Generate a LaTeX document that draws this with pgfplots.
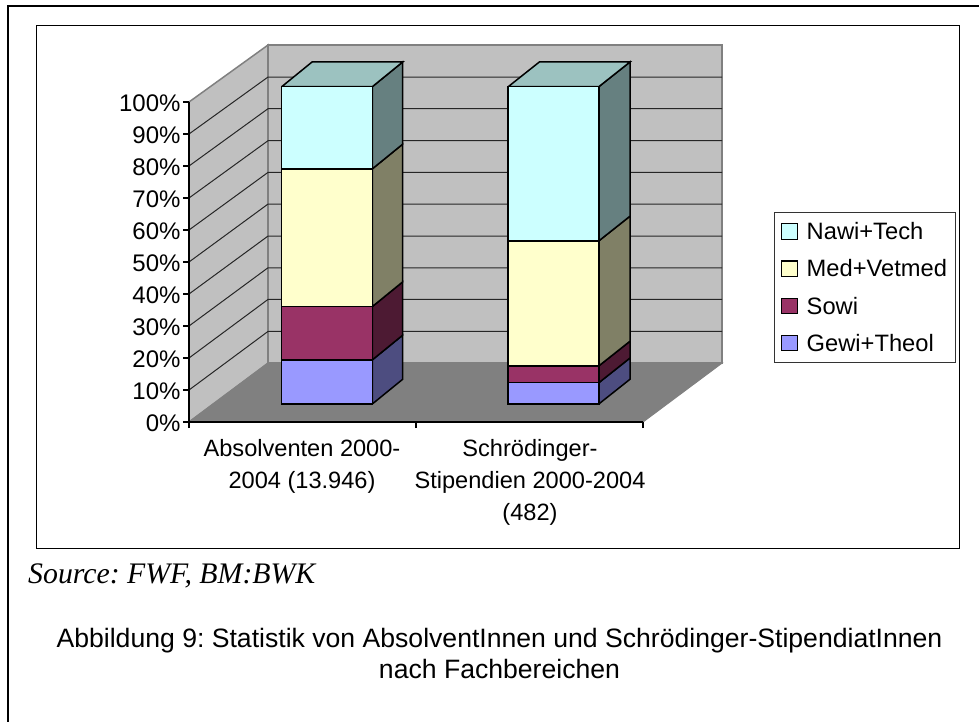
\documentclass[border=0pt]{standalone}
\usepackage{pgfplots}
\usepackage{pgfplotstable}
\usepackage{fontspec}
\pgfplotsset{compat=1.18}
\setmainfont{Liberation Sans}
\newfontfamily\timesfont{Liberation Serif}

% share of each field, percent
\pgfplotstableread{
x     Gewi Sowi Med  Nawi
327.0 13.9 16.8 43.4 25.9
553.5 6.7  5.3  39.4 48.6
}\shares

\definecolor{cGewi}{HTML}{9999FF}
\definecolor{cSowi}{HTML}{993366}
\definecolor{cMed}{HTML}{FFFFCC}
\definecolor{cNawi}{HTML}{CCFFFF}
\definecolor{sGewi}{HTML}{4D4D80}
\definecolor{sSowi}{HTML}{4D1A33}
\definecolor{sMed}{HTML}{808066}
\definecolor{sNawi}{HTML}{668080}
\definecolor{tNawi}{HTML}{9CC2C0}
\definecolor{wall}{HTML}{C0C0C0}
\definecolor{floorc}{HTML}{808080}

\begin{document}
\frenchspacing
\begin{tikzpicture}[x=1pt,y=1pt]
\useasboundingbox (0,0) rectangle (979,-722);
\draw[line width=2pt] (8,-722) -- (8,-6.5) -- (979,-6.5);
\draw[line width=1pt] (36.5,-25.5) rectangle (959,-548);

% walls and floor, y in percent on the front plane
\begin{axis}[
  at={(189pt,-422pt)}, anchor=south west,
  x=1pt, y=3.2pt,
  xmin=189, xmax=643, ymin=0, ymax=100,
  clip=false, axis on top,
  axis x line*=bottom, axis y line*=left,
  axis line style={black,line width=1.5pt},
  tick align=outside, major tick length=6pt,
  tick style={black,line width=1.2pt},
  ytick={0,10,20,30,40,50,60,70,80,90,100},
  yticklabels={0\%,10\%,20\%,30\%,40\%,50\%,60\%,70\%,80\%,90\%,100\%},
  yticklabel style={font=\fontsize{24}{26}\selectfont, xshift=1pt, yshift=-1.5pt},
  xtick={189,416,643},
  xticklabels={},
  extra x ticks={302,530},
  extra x tick labels={{Absolventen 2000-\\2004 (13.946)},{Schrödinger-\\Stipendien 2000-2004\\(482)}},
  extra x tick style={major tick length=0pt, tick style={draw=none},
    xticklabel style={align=center, anchor=north, font=\fontsize{23.6}{32}\selectfont, yshift=-14pt}},
  unbounded coords=jump,
]
\addplot[fill=wall, draw=floorc, line width=1.5pt] coordinates {(189,0) (268,18.4) (268,117.8) (189,100) (189,0)};
\addplot[fill=wall, draw=floorc, line width=1.5pt] coordinates {(268,18.4) (722,18.4) (722,117.8) (268,117.8) (268,18.4)};
\addplot[fill=floorc, draw=floorc, line width=1pt] coordinates {(189,0) (643,0) (722,18.4) (268,18.4) (189,0)};
% grid on the left wall and on the back wall
\addplot[black!85, line width=1pt] coordinates {
  (189,10) (268,28.3) (722,28.3) (nan,nan)
  (189,20) (268,38.3) (722,38.3) (nan,nan)
  (189,30) (268,48.2) (722,48.2) (nan,nan)
  (189,40) (268,58.1) (722,58.1) (nan,nan)
  (189,50) (268,68.1) (722,68.1) (nan,nan)
  (189,60) (268,78.0) (722,78.0) (nan,nan)
  (189,70) (268,87.9) (722,87.9) (nan,nan)
  (189,80) (268,97.9) (722,97.9) (nan,nan)
  (189,90) (268,107.8) (722,107.8)
};
\end{axis}

% side and top faces of the columns
\begin{axis}[
  at={(189pt,-404pt)}, anchor=south west,
  x=1pt, y=3.173pt,
  xmin=189, xmax=643, ymin=0, ymax=100,
  clip=false, hide axis,
]
\addplot[fill=sGewi, draw=black, line width=1.5pt] coordinates {(372.3,0) (402.7,7.8) (402.7,21.7) (372.3,13.9) (372.3,0)};
\addplot[fill=sSowi, draw=black, line width=1.5pt] coordinates {(372.3,13.9) (402.7,21.7) (402.7,38.5) (372.3,30.7) (372.3,13.9)};
\addplot[fill=sMed, draw=black, line width=1.5pt] coordinates {(372.3,30.7) (402.7,38.5) (402.7,81.9) (372.3,74.1) (372.3,30.7)};
\addplot[fill=sNawi, draw=black, line width=1.5pt] coordinates {(372.3,74.1) (402.7,81.9) (402.7,107.8) (372.3,100) (372.3,74.1)};
\addplot[fill=tNawi, draw=black, line width=1.5pt] coordinates {(281.7,100) (372.3,100) (402.7,107.8) (312.1,107.8) (281.7,100)};
\addplot[fill=sGewi, draw=black, line width=1.5pt] coordinates {(598.8,0) (630,7.8) (630,14.5) (598.8,6.7) (598.8,0)};
\addplot[fill=sSowi, draw=black, line width=1.5pt] coordinates {(598.8,6.7) (630,14.5) (630,19.8) (598.8,12.0) (598.8,6.7)};
\addplot[fill=sMed, draw=black, line width=1.5pt] coordinates {(598.8,12.0) (630,19.8) (630,59.2) (598.8,51.4) (598.8,12.0)};
\addplot[fill=sNawi, draw=black, line width=1.5pt] coordinates {(598.8,51.4) (630,59.2) (630,107.8) (598.8,100) (598.8,51.4)};
\addplot[fill=tNawi, draw=black, line width=1.5pt] coordinates {(508.2,100) (598.8,100) (630,107.8) (539.4,107.8) (508.2,100)};
\end{axis}

% front faces and legend
\begin{axis}[
  at={(189pt,-404pt)}, anchor=south west,
  x=1pt, y=3.173pt,
  xmin=189, xmax=643, ymin=0, ymax=100,
  clip=false, hide axis,
  ybar stacked, bar width=90.6pt,
  reverse legend,
  legend style={at={(axis cs:774,60.5)}, anchor=north west,
    draw=black!80, line width=1pt, inner xsep=6pt, inner ysep=8pt,
    font=\fontsize{23.7}{26}\selectfont, row sep=14.5pt, legend cell align=left,
    /tikz/every odd column/.append style={column sep=7pt}},
  legend image code/.code={\draw[#1, line width=1.2pt, draw=black] (3pt,-7.5pt) rectangle (19pt,8pt);},
]
\addplot[fill=cGewi, draw=black, line width=1.5pt] table[x=x, y=Gewi] {\shares};
\addplot[fill=cSowi, draw=black, line width=1.5pt] table[x=x, y=Sowi] {\shares};
\addplot[fill=cMed, draw=black, line width=1.5pt] table[x=x, y=Med] {\shares};
\addplot[fill=cNawi, draw=black, line width=1.5pt] table[x=x, y=Nawi] {\shares};
\legend{Gewi+Theol,Sowi,Med+Vetmed,Nawi+Tech}
\end{axis}

\node[anchor=base west, inner sep=0pt, font=\timesfont\itshape\fontsize{29.8}{34}\selectfont] at (28,-583) {Source: FWF, BM:BWK};
\node[align=center, font=\fontsize{26.6}{30.5}\selectfont, anchor=north] at (499.5,-625) {Abbildung 9: Statistik von AbsolventInnen und Schrödinger-StipendiatInnen\\nach Fachbereichen};
\end{tikzpicture}
\end{document}
